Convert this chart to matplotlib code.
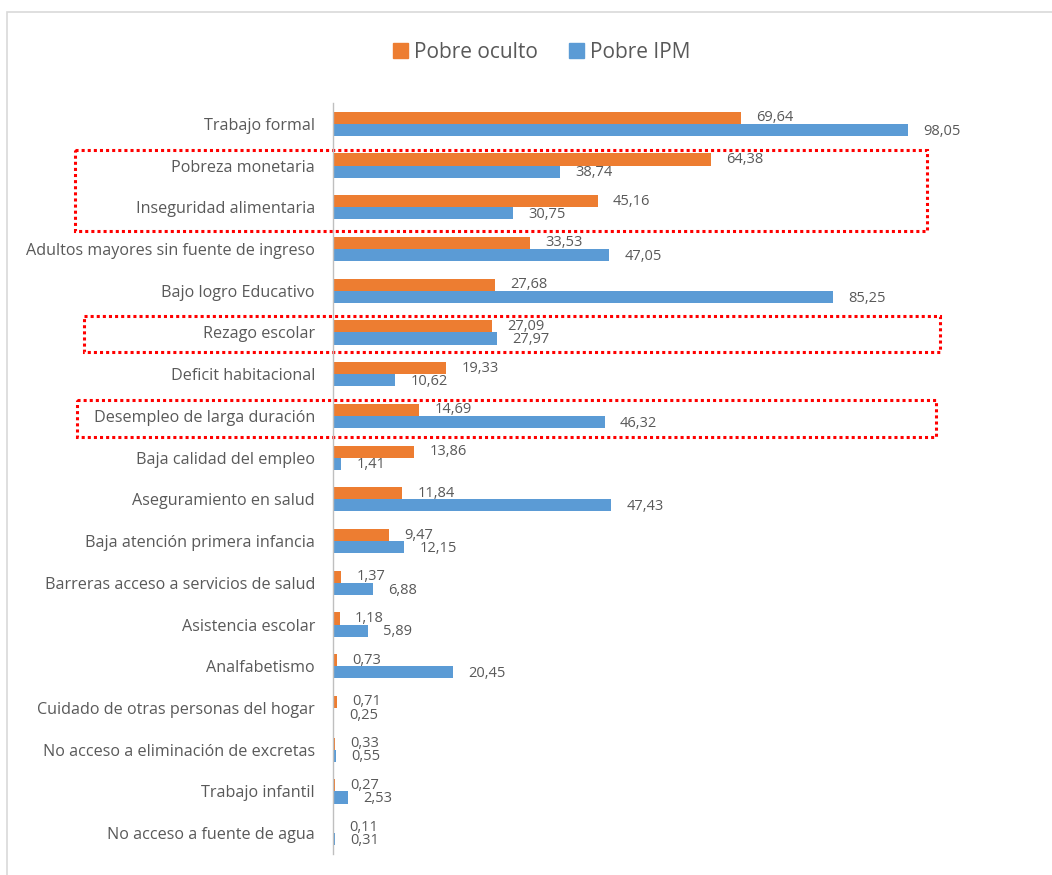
import matplotlib.pyplot as plt
import matplotlib.transforms as mtransforms
from matplotlib.patches import Rectangle, Patch

# Data
categorias = [
    "Trabajo formal", "Pobreza monetaria", "Inseguridad alimentaria",
    "Adultos mayores sin fuente de ingreso", "Bajo logro Educativo",
    "Rezago escolar", "Deficit habitacional", "Desempleo de larga duración",
    "Baja calidad del empleo", "Aseguramiento en salud",
    "Baja atención primera infancia", "Barreras acceso a servicios de salud",
    "Asistencia escolar", "Analfabetismo", "Cuidado de otras personas del hogar",
    "No acceso a eliminación de excretas", "Trabajo infantil",
    "No acceso a fuente de agua",
]
pobre_oculto = [69.64, 64.38, 45.16, 33.53, 27.68, 27.09, 19.33, 14.69, 13.86,
                11.84, 9.47, 1.37, 1.18, 0.73, 0.71, 0.33, 0.27, 0.11]
pobre_ipm = [98.05, 38.74, 30.75, 47.05, 85.25, 27.97, 10.62, 46.32, 1.41,
             47.43, 12.15, 6.88, 5.89, 20.45, 0.25, 0.55, 2.53, 0.31]

naranja = "#ED7D31"
azul = "#5B9BD5"
gris = "#595959"

plt.rcParams['font.family'] = ['Open Sans', 'DejaVu Sans']

fig = plt.figure(figsize=(10.52, 8.75), dpi=100)
ax = fig.add_axes([333 / 1052, 1 - 854 / 875, 645 / 1052, (854 - 103) / 875])

y = list(range(len(categorias)))
h = 0.29
y_or = [v - h / 2 for v in y]
y_az = [v + h / 2 for v in y]
ax.barh(y_or, pobre_oculto, height=h, color=naranja, label="Pobre oculto")
ax.barh(y_az, pobre_ipm, height=h, color=azul, label="Pobre IPM")

def fmt(v):
    return f"{v:.2f}".replace(".", ",")

for yy, v in zip(y_or, pobre_oculto):
    ax.text(v + 2.6, yy, fmt(v), va="center", ha="left", fontsize=10.5, color=gris)
for yy, v in zip(y_az, pobre_ipm):
    ax.text(v + 2.6, yy + 0.03, fmt(v), va="center", ha="left", fontsize=10.5, color=gris)

ax.set_xlim(0, 110)
ax.set_ylim(len(categorias) - 0.5, -0.5)
ax.set_yticks(y)
ax.set_yticklabels(categorias, fontsize=11.6, color=gris)
ax.tick_params(axis="y", length=0, pad=13)
ax.set_xticks([])
for s in ["top", "right", "bottom"]:
    ax.spines[s].set_visible(False)
ax.spines["left"].set_color("#BFBFBF")
ax.spines["left"].set_linewidth(1)

# leyenda
handles = [Patch(color=naranja, label="Pobre oculto"), Patch(color=azul, label="Pobre IPM")]
fig.legend(handles=handles, loc="center", bbox_to_anchor=(542 / 1052, 1 - 52 / 875),
           ncol=2, frameon=False, fontsize=15, labelcolor=gris,
           handlelength=0.7, handleheight=0.7, handletextpad=0.3, columnspacing=1.5)

# marco de la figura
fig.patches.append(Rectangle((7 / 1052, -0.05), 1.1, 1 - 12 / 875 + 0.05,
                             transform=fig.transFigure, fill=False,
                             edgecolor="#D9D9D9", linewidth=1.2))

# recuadros punteados
tr = mtransforms.blended_transform_factory(fig.transFigure, ax.transData)
cajas = [(75, 927, 0.62, 2.57), (84, 940, 4.6, 5.47), (77, 936, 6.62, 7.5)]
for x0, x1, y0, y1 in cajas:
    r = Rectangle((x0 / 1052, y0), (x1 - x0) / 1052, y1 - y0, transform=tr,
                  fill=False, edgecolor="#FF0000", linewidth=2.2,
                  linestyle=(0, (1, 1)), clip_on=False)
    ax.add_patch(r)

fig.savefig("out.png", dpi=100)
